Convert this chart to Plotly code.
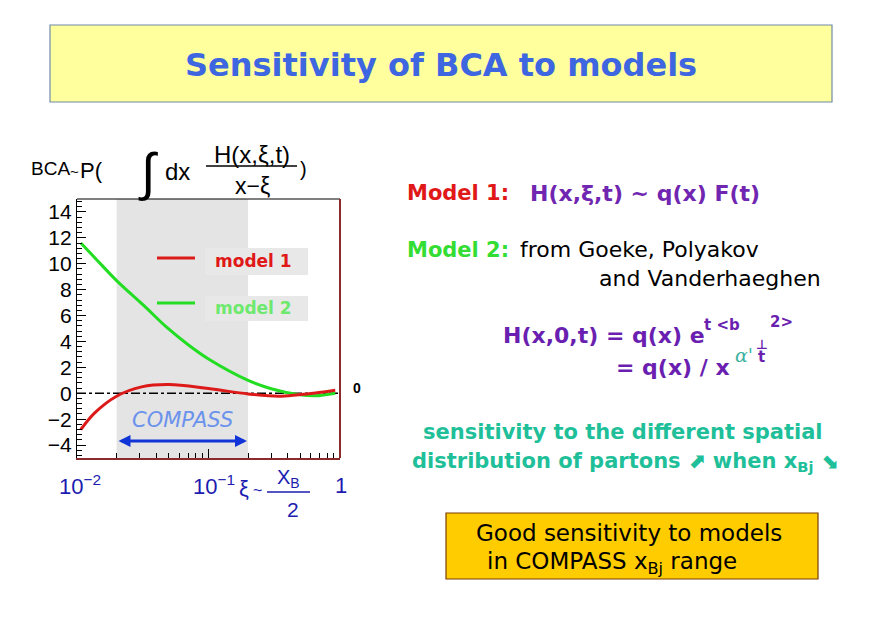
import plotly.graph_objects as go

# ---------------- data ----------------
model1_x = [0.0107, 0.0137, 0.02, 0.031, 0.05, 0.1, 0.2, 0.34, 0.48, 0.65, 0.92]
model1_y = [-2.8, -1.5, -0.23, 0.49, 0.67, 0.36, -0.05, -0.23, -0.12, 0.02, 0.23]

model2_x = [0.0107, 0.0137, 0.02, 0.032, 0.048, 0.07, 0.1, 0.2, 0.3, 0.48, 0.65, 0.92]
model2_y = [11.6, 10.45, 8.7, 6.8, 5.1, 3.75, 2.65, 1.0, 0.35, -0.1, -0.2, 0.0]

compass_range = [0.02, 0.2]
x_range_log = [-2, 0]
y_range = [-5, 15]
x_major = [0.01, 0.1, 1]
x_minor = [0.02, 0.03, 0.04, 0.05, 0.06, 0.07, 0.08, 0.09,
           0.2, 0.3, 0.4, 0.5, 0.6, 0.7, 0.8, 0.9]

# page offset of the plot div (browser default body margin)
OX, OY = 8, 8
W, H = 854, 614


def px(x):
    return (x - OX) / W


def py(y):
    return 1 - (y - OY) / H


SANS = "DejaVu Sans"
ARIAL = "Liberation Sans"

fig = go.Figure()

# COMPASS band
fig.add_trace(go.Scatter(
    x=[compass_range[0], compass_range[1], compass_range[1], compass_range[0], compass_range[0]],
    y=[y_range[0], y_range[0], y_range[1], y_range[1], y_range[0]],
    fill="toself", fillcolor="#e4e4e4", line=dict(width=0), mode="lines",
    hoverinfo="skip", showlegend=False))

# zero line
fig.add_trace(go.Scatter(x=[0.01, 1], y=[0, 0], mode="lines",
                         line=dict(color="black", width=1.3, dash="dashdot"),
                         showlegend=False, hoverinfo="skip"))

fig.add_trace(go.Scatter(x=model2_x, y=model2_y, mode="lines",
                         line=dict(color="#22dd22", width=3, shape="spline", smoothing=1.0),
                         showlegend=False))
fig.add_trace(go.Scatter(x=model1_x, y=model1_y, mode="lines",
                         line=dict(color="#dd1a1a", width=3, shape="spline", smoothing=1.0),
                         showlegend=False))

shapes = []
# frame top and right
shapes.append(dict(type="line", xref="x domain", yref="y domain", x0=0, x1=1, y0=1, y1=1,
                   line=dict(color="black", width=1.2)))
shapes.append(dict(type="line", xref="x domain", yref="y domain", x0=1, x1=1, y0=0, y1=1,
                   line=dict(color="#8b2a2a", width=2)))
# title box
shapes.append(dict(type="rect", xref="paper", yref="paper", x0=px(50), x1=px(832), y0=py(102), y1=py(25),
                   fillcolor="#ffff9e", line=dict(color="#6f8aa8", width=1.2), layer="below"))
# orange box
shapes.append(dict(type="rect", xref="paper", yref="paper", x0=px(446), x1=px(818), y0=py(579), y1=py(513),
                   fillcolor="#ffcc00", line=dict(color="#7a3d00", width=1.2), layer="below"))
# legend boxes
shapes.append(dict(type="rect", xref="paper", yref="paper", x0=px(205), x1=px(308), y0=py(275), y1=py(248),
                   fillcolor="#e8e8e8", line=dict(width=0)))
shapes.append(dict(type="rect", xref="paper", yref="paper", x0=px(205), x1=px(308), y0=py(321), y1=py(296),
                   fillcolor="#e8e8e8", line=dict(width=0)))
# legend lines
shapes.append(dict(type="line", xref="paper", yref="paper", x0=px(157), x1=px(195), y0=py(258), y1=py(258),
                   line=dict(color="#dd1a1a", width=3)))
shapes.append(dict(type="line", xref="paper", yref="paper", x0=px(157), x1=px(195), y0=py(303), y1=py(303),
                   line=dict(color="#22dd22", width=3)))
# fraction lines
shapes.append(dict(type="line", xref="paper", yref="paper", x0=px(206), x1=px(297), y0=py(166), y1=py(166),
                   line=dict(color="black", width=1.5)))
shapes.append(dict(type="line", xref="paper", yref="paper", x0=px(267), x1=px(310), y0=py(492), y1=py(492),
                   line=dict(color="#1c1cb0", width=1.5)))

ann = []


def txt(s, x, y, size, color="black", anchor="left", family=SANS, yanchor="middle"):
    ann.append(dict(text=s, x=px(x), y=py(y), xref="paper", yref="paper", showarrow=False,
                    xanchor=anchor, yanchor=yanchor,
                    font=dict(size=size, color=color, family=family)))


# title
txt("<b>Sensitivity of BCA to models</b>", 441, 65, 32, "#3d66e0", "center")

# formula
txt("BCA", 29, 168, 19, "black", "left", ARIAL)
txt("~", 68, 171, 15, "black", "left", ARIAL)
txt("P(", 78, 170, 22, "black", "left", ARIAL)
txt("∫", 148, 172, 52, "black", "center", ARIAL)
txt("dx", 163, 171, 24, "black", "left", ARIAL)
txt("H(x,ξ,t)", 252, 154, 24, "black", "center", ARIAL)
txt("x−ξ", 252, 186, 23, "black", "center", ARIAL)
txt(")", 298, 169, 20, "black", "left", ARIAL)

# legend text
txt("<b>model 1</b>", 213, 261, 17, "#e01818", "left")
txt("<b>model 2</b>", 213, 308, 17, "#6ee86e", "left")

# COMPASS
txt("<i>COMPASS</i>", 182, 420, 21, "#6b92ec", "center")
ann.append(dict(x=px(247), y=py(441), xref="paper", yref="paper", ax=-130, ay=0,
                showarrow=True, arrowside="end+start", arrowhead=2, startarrowhead=2,
                arrowwidth=3, arrowsize=0.8, startarrowsize=0.8, arrowcolor="#1034d8", text=""))

# "0" at right
txt("<b>0</b>", 357, 388, 14, "black", "center", ARIAL)

# x-axis labels
blue = "#1c1cb0"
txt("10<sup>−2</sup>", 80, 485, 22, blue, "center", ARIAL)
txt("10<sup>−1</sup>", 214, 485, 22, blue, "center", ARIAL)
txt("ξ", 244, 488, 22, blue, "center", ARIAL)
txt("~", 257, 490, 16, blue, "center", ARIAL)
txt("X<sub>B</sub>", 288, 478, 20, blue, "center", ARIAL)
txt("2", 293, 509, 21, blue, "center", ARIAL)
txt("1", 341, 485, 22, blue, "center", ARIAL)

# right side texts
txt("<b>Model 1:</b>", 405, 193, 21, "#e01818")
txt("<b>H(x,ξ,t) ~ q(x) F(t)</b>", 528, 193, 22, "#7026b0")
txt("<b>Model 2:</b>", 405, 250, 21, "#33dd33")
txt("from Goeke, Polyakov", 518, 250, 22, "black")
txt("and Vanderhaeghen", 597, 278, 22, "black")

purple = "#6a1fb0"
txt("<b>H(x,0,t) = q(x) e</b>", 501, 335, 22, purple)
txt("<b>t &lt;b</b>", 702, 325, 15, purple)
txt("<b>⊥</b>", 754, 344, 13, purple)
txt("<b>2&gt;</b>", 768, 322, 15, purple)
txt("<b>= q(x) / x</b>", 614, 367, 22, purple)
txt("<i>α'</i>", 733, 355, 19, "#3fb3a0", "left", "DejaVu Serif")
txt("<b>t</b>", 756, 357, 15, purple)

teal = "#1fbf9a"
txt("<b>sensitivity to the different spatial</b>", 421, 432, 21, teal)
txt("<b>distribution of partons ⬈ when x<sub>Bj</sub> ⬊</b>", 410, 462, 21, teal)

txt("Good sensitivity to models", 474, 533, 23, "black")
txt("in COMPASS x<sub>Bj</sub> range", 485, 563, 23, "black")

fig.update_layout(
    width=W, height=H,
    margin=dict(l=0, r=0, t=0, b=0),
    paper_bgcolor="white", plot_bgcolor="white",
    shapes=shapes, annotations=ann, showlegend=False,
    xaxis=dict(domain=[px(77), px(340)], type="log", range=x_range_log,
               tickvals=x_major, ticks="inside", ticklen=9, tickwidth=1.2, tickcolor="black",
               minor=dict(tickvals=x_minor, ticks="inside", ticklen=5, tickcolor="black", tickwidth=1),
               showticklabels=False, showgrid=False, zeroline=False,
               showline=True, linecolor="#8b2a2a", linewidth=2, layer="above traces"),
    yaxis=dict(domain=[py(458), py(199)], range=y_range, tick0=0, dtick=2,
               ticks="inside", ticklen=9, tickwidth=1.2, tickcolor="black",
               minor=dict(dtick=0.4, ticks="inside", ticklen=5, tickcolor="black", tickwidth=1),
               showgrid=False, zeroline=False, showline=True, linecolor="black", linewidth=1.2,
               tickfont=dict(family=ARIAL, size=21, color="black"), layer="above traces"),
)

fig.write_html("out.html")
